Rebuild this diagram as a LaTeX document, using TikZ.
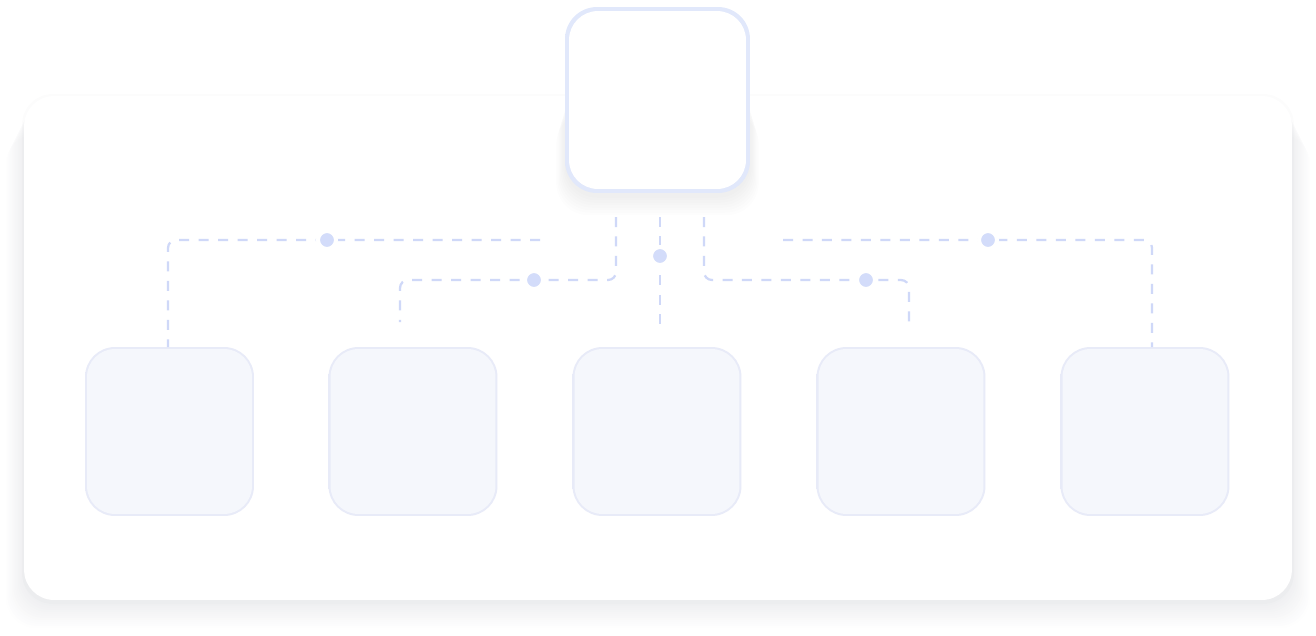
\documentclass[tikz,border=0pt]{standalone}
\usepackage{xcolor}
\usetikzlibrary{positioning,calc}
\definecolor{linkblue}{HTML}{CFD8F8}
\definecolor{dotblue}{HTML}{D3DCFA}
\definecolor{rimlight}{HTML}{E1E8FB}
\definecolor{rimdeep}{HTML}{BCCAF5}
\definecolor{cardfill}{HTML}{F5F7FC}
\definecolor{cardrim}{HTML}{E8EBF8}
\definecolor{cardside}{HTML}{C5D0F6}
\definecolor{shadowgray}{HTML}{5A5F70}

\begin{document}
\begin{tikzpicture}[x=0.02cm,y=-0.02cm,
panel/.style={fill=white,rounded corners=0.6cm,minimum width=25.36cm,minimum height=10.08cm},
root/.style={rounded corners=0.64cm,minimum width=3.7cm,minimum height=3.72cm,
  top color=rimlight,middle color=rimdeep,bottom color=rimlight,
  path picture={\fill[white,rounded corners=0.58cm]
    ($(path picture bounding box.south west)+(0.08cm,0.08cm)$) rectangle
    ($(path picture bounding box.north east)-(0.08cm,0.08cm)$);}},
card/.style={rounded corners=0.6cm,minimum width=3.38cm,minimum height=3.38cm,
  top color=cardrim,middle color=cardside,bottom color=cardrim,
  path picture={\fill[cardfill,rounded corners=0.56cm]
    ($(path picture bounding box.south west)+(0.04cm,0.04cm)$) rectangle
    ($(path picture bounding box.north east)-(0.04cm,0.04cm)$);}},
link/.style={draw=linkblue,line width=0.045cm,dash pattern=on 0.2cm off 0.19cm,rounded corners=0.16cm},
dot/.style={circle,fill=dotblue,draw=white,line width=0.08cm,inner sep=0pt,minimum size=0.36cm}]

\useasboundingbox (0,0) rectangle (1316,636);

\fill[shadowgray,opacity=0.02,rounded corners=0.62cm] (22,94) rectangle (1294,604);
\foreach \s in {1,...,12}
  \fill[shadowgray,opacity=0.008,rounded corners=0.6cm] (24-1.5*\s,98+3*\s) rectangle (1292+1.5*\s,604+2*\s);
\node[panel] (base) at (658,348) {};

\foreach \s in {1,...,8}
  \fill[shadowgray,opacity=0.012,rounded corners=0.64cm] (566-1.2*\s,80+4*\s) rectangle (749+1.2*\s,195+2.5*\s);
\node[root] (top) at (657.5,100) {};

\node[card] (c1) at (169.5,431.5) {};
\node[card] (c2) at (413,431.5) {};
\node[card] (c3) at (657,431.5) {};
\node[card] (c4) at (901,431.5) {};
\node[card] (c5) at (1145,431.5) {};

\coordinate (lo) at (540,240);
\coordinate (loe) at (168,347);
\coordinate (li) at (616,217);
\coordinate (lie) at (400,322);
\coordinate (mi) at (660,217);
\coordinate (mie) at (660,330);
\coordinate (ri) at (704,217);
\coordinate (rie) at (909,322);
\coordinate (ro) at (783,240);
\coordinate (roe) at (1152,347);

\draw[link] (lo) -| (loe);
\draw[link] (li) -- (616,280) -- (400,280) -- (lie);
\draw[link] (mi) -- (mie);
\draw[link] (ri) -- (704,280) -- (909,280) -- (rie);
\draw[link] (ro) -| (roe);

\node[dot] (d1) at (327,240) {};
\node[dot] (d2) at (534,280) {};
\node[dot] (d3) at (660,256) {};
\node[dot] (d4) at (866,280) {};
\node[dot] (d5) at (988,240) {};
\end{tikzpicture}
\end{document}
